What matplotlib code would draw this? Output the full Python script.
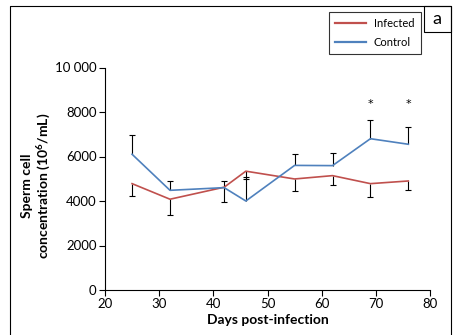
import matplotlib
matplotlib.use('Agg')
import matplotlib.pyplot as plt
import numpy as np
from matplotlib.lines import Line2D
from matplotlib.patches import Rectangle

# Sperm cell concentration vs days post-infection
days = [25, 32, 42, 46, 55, 62, 69, 76]
infected = [4780, 4080, 4620, 5340, 4990, 5140, 4780, 4900]
infected_err = [570, 720, 680, 340, 540, 430, 610, 400]
control = [6100, 4480, 4600, 4000, 5600, 5590, 6800, 6550]
control_err = [870, 400, 310, 1080, 500, 570, 820, 760]
signif_days = [69, 76]
signif_y = 8350
yticks = [0, 2000, 4000, 6000, 8000, 10000]
yticklabels = ['0', '2000', '4000', '6000', '8000', '10 000']
xticks = [20, 30, 40, 50, 60, 70, 80]

plt.rcParams['font.family'] = ['Lato', 'DejaVu Sans']
plt.rcParams['mathtext.fontset'] = 'custom'
plt.rcParams['mathtext.rm'] = 'Lato:bold'
plt.rcParams['mathtext.bf'] = 'Lato:bold'

red = '#C0504D'
blue = '#4F81BD'

W, H = 459, 335
fig = plt.figure(figsize=(W / 100, H / 100), dpi=100, facecolor='w')
ax = fig.add_axes([105 / W, 1 - 290 / H, 325 / W, 222.5 / H])

n = len(days)
zero = np.zeros(n)

ax.plot(days, infected, c=red, lw=1.2, label='Infected', zorder=3)
ax.plot(days, control, c=blue, lw=1.2, label='Control', zorder=3)

# control: upper bars only, infected: lower bars only
_, caps, _ = ax.errorbar(days, control, yerr=[zero, control_err], fmt='none',
                         ecolor='k', elinewidth=0.8, capsize=2.5, capthick=0.8, zorder=2)
caps[0].set_visible(False)
_, caps, _ = ax.errorbar(days, infected, yerr=[infected_err, zero], fmt='none',
                         ecolor='k', elinewidth=0.8, capsize=2.5, capthick=0.8, zorder=2)
caps[1].set_visible(False)

for d in signif_days:
    ax.text(d, signif_y, '*', ha='center', va='center', size=8, family='DejaVu Sans')

ax.set_xlim(20, 80)
ax.set_ylim(0, 10000)
ax.set_xticks(xticks)
ax.set_yticks(yticks)
ax.set_yticklabels(yticklabels)
ax.tick_params(direction='out', length=4, width=0.8, labelsize=9.5, pad=2)
for s in ['top', 'right']:
    ax.spines[s].set_visible(False)
for s in ['left', 'bottom']:
    ax.spines[s].set_linewidth(0.8)

ax.set_xlabel('Days post-infection', fontweight='bold', size=10, labelpad=3)
ax.set_ylabel('Sperm cell\nconcentration (10$^6$/mL)', fontweight='bold', size=10,
              linespacing=1.1)
ax.yaxis.set_label_coords(-0.163, 0.47)

leg = fig.legend(loc='upper left', bbox_to_anchor=(329 / W, 1 - 12 / H), fontsize=8,
                 frameon=True, fancybox=False, edgecolor='k', borderaxespad=0,
                 handlelength=2.8, handletextpad=0.7, borderpad=0.55,
                 labelspacing=0.7)
leg.get_frame().set_linewidth(0.8)
for h in leg.get_lines():
    h.set_linewidth(1.6)

# outer frame (open at the bottom) and panel letter box
x0, x1, y0 = 9.5 / W, 450.5 / W, 1 - 6 / H
fig.add_artist(Line2D([x0, x0, x1, x1], [-0.01, y0, y0, -0.01], color='k', lw=0.8,
                      transform=fig.transFigure))
fig.add_artist(Rectangle((424 / W, 1 - 32 / H), 26.5 / W, 26 / H, fill=False,
                         edgecolor='k', lw=0.8, transform=fig.transFigure))
fig.text(437 / W, 1 - 19.5 / H, 'a', ha='center', va='center', size=13)

fig.savefig('out.png', dpi=100)
